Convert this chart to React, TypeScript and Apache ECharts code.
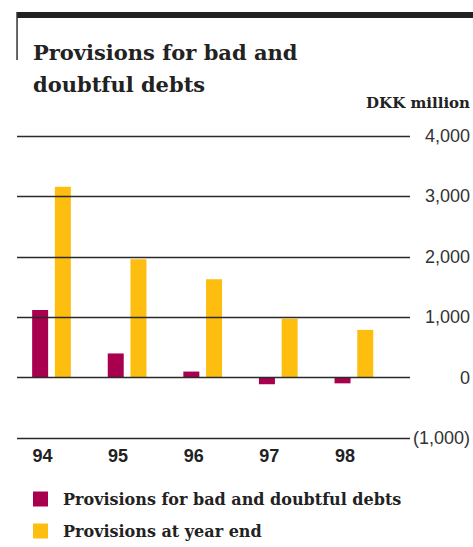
import React, { useEffect, useRef } from "react";
import * as echarts from "echarts";

const categories = ["94", "95", "96", "97", "98"];
const provisionsForBadDebts = [1120, 400, 100, -110, -95];
const provisionsAtYearEnd = [3160, 1960, 1630, 975, 790];
const yTicks = [-1000, 0, 1000, 2000, 3000, 4000];

const seriesNames = ["Provisions for bad and doubtful debts", "Provisions at year end"];
const colors = ["#A8004F", "#FDBE10"];

function fmt(v: number): string {
  if (v === 0) return "0";
  const s = Math.abs(v).toLocaleString("en-US");
  return v < 0 ? `(${s})` : s;
}

export default function App() {
  const ref = useRef<HTMLDivElement>(null);
  useEffect(() => {
    if (!ref.current) return;
    const chart = echarts.init(ref.current, null, { renderer: "svg" });
    const serif = "'DejaVu Serif', serif";
    const sans = "'Liberation Sans', Arial, sans-serif";
    const yMin = yTicks[0];
    const yMax = yTicks[yTicks.length - 1];
    chart.setOption({
      animation: false,
      backgroundColor: "#ffffff",
      graphic: [
        { type: "rect", shape: { x: 17, y: 12, width: 456, height: 6 }, style: { fill: "#222" } },
        { type: "rect", shape: { x: 16.3, y: 12, width: 1.5, height: 48 }, style: { fill: "#333" } },
        {
          type: "text", x: 33, y: 52,
          style: { text: "Provisions for bad and", font: `bold 21px ${serif}`, fill: "#222", textVerticalAlign: "middle" },
        },
        {
          type: "text", x: 33, y: 84,
          style: { text: "doubtful debts", font: `bold 21px ${serif}`, fill: "#222", textVerticalAlign: "middle" },
        },
        {
          type: "text", x: 470, y: 103,
          style: { text: "DKK million", font: `bold 15px ${serif}`, fill: "#222", textAlign: "right", textVerticalAlign: "middle" },
        },
      ],
      grid: [
        { left: 17, right: 63, top: 136, bottom: 547 - 438 },
        { left: 13.7, right: 473 - 391.7, top: 136, bottom: 547 - 438 },
      ],
      xAxis: [
        { type: "value", gridIndex: 0, min: 0, max: 1, show: false },
        {
          type: "category", gridIndex: 1, data: categories,
          axisLine: { show: false }, axisTick: { show: false },
          axisLabel: {
            margin: 9, fontFamily: sans, fontWeight: "bold", fontSize: 18, color: "#222",
            padding: [0, 18, 0, 0],
          },
        },
      ],
      yAxis: [
        {
          type: "value", gridIndex: 0, position: "right", min: yMin, max: yMax, interval: 1000, z: 10,
          axisLine: { show: false }, axisTick: { show: false },
          splitLine: { show: true, lineStyle: { color: "#2a2a2a", width: 1.4 } },
          axisLabel: {
            formatter: (v: number) => fmt(v), align: "right", margin: 60,
            fontFamily: sans, fontSize: 18, color: "#333",
          },
        },
        {
          type: "value", gridIndex: 1, min: yMin, max: yMax, interval: 1000, show: false,
          splitLine: { show: false },
        },
      ],
      legend: {
        orient: "vertical", left: 28, top: 486, itemWidth: 15, itemHeight: 15, itemGap: 16,
        icon: "rect",
        textStyle: { fontFamily: serif, fontWeight: "bold", fontSize: 16, color: "#222", padding: [0, 0, 0, 10] },
        data: seriesNames,
      },
      series: [
        {
          name: seriesNames[0], type: "bar", xAxisIndex: 1, yAxisIndex: 1,
          data: provisionsForBadDebts, barWidth: 16, barGap: "42%",
          itemStyle: { color: colors[0] },
        },
        {
          name: seriesNames[1], type: "bar", xAxisIndex: 1, yAxisIndex: 1,
          data: provisionsAtYearEnd, barWidth: 16, barGap: "42%",
          itemStyle: { color: colors[1] },
        },
      ],
    });
    return () => chart.dispose();
  }, []);
  return <div ref={ref} style={{ position: "fixed", left: 0, top: 0, width: 473, height: 547 }} />;
}
